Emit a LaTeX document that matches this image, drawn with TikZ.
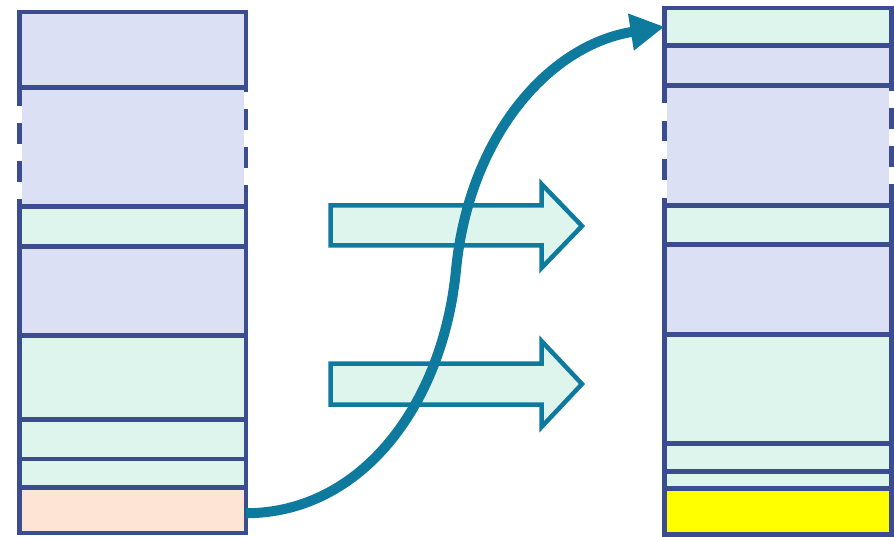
\documentclass[tikz,border=0pt]{standalone}
\usetikzlibrary{arrows.meta}
\definecolor{bdr}{RGB}{59,76,145}
\definecolor{lav}{RGB}{220,224,244}
\definecolor{mint}{RGB}{222,245,238}
\definecolor{peach}{RGB}{253,228,212}
\definecolor{teal}{RGB}{14,122,157}
\definecolor{yel}{RGB}{255,255,0}
\tikzset{
  cell/.style={draw=bdr, line width=4.5pt, inner sep=0pt, outer sep=0pt},
  lcol/.style={cell, minimum width=226.5pt},
  rcol/.style={cell, minimum width=227pt},
  openside/.style={draw=none, fill=lav, inner sep=0pt, outer sep=0pt},
  dashside/.style={draw=bdr, line width=4.5pt, dash pattern=on 21pt off 17pt},
  blockarrow/.style={draw=teal, fill=mint, line width=4.5pt, line join=miter},
  curve/.style={draw=teal, line width=10pt, -{Triangle[length=34pt,width=35pt]}}
}
\begin{document}
\begin{tikzpicture}[x=1pt,y=-1pt]
\useasboundingbox (0,0) rectangle (894,537);
% open (dashed-side) sections first, so neighbouring borders lie on top
\node[openside, minimum width=222pt, minimum height=119pt] (L2) at (132.75,147) {};
\node[openside, minimum width=222.5pt, minimum height=120pt] (R3) at (778,145.5) {};
% left column
\node[lcol, fill=lav,   minimum height=75.5pt] (L1) at (132.75,49.75) {};
\node[lcol, fill=mint,  minimum height=40pt]   (L3) at (132.75,226.5) {};
\node[lcol, fill=lav,   minimum height=89pt]   (L4) at (132.75,291) {};
\node[lcol, fill=mint,  minimum height=84pt]   (L5) at (132.75,377.5) {};
\node[lcol, fill=mint,  minimum height=39.5pt] (L6) at (132.75,439.25) {};
\node[lcol, fill=mint,  minimum height=28.5pt] (L7) at (132.75,473.25) {};
\node[lcol, fill=peach, minimum height=45.5pt] (L8) at (132.75,510.25) {};
\coordinate (L2nw) at (19.5,87.5);
\coordinate (L2sw) at (19.5,206.5);
\coordinate (L2ne) at (246,87.5);
\coordinate (L2se) at (246,206.5);
\draw[dashside, dash phase=2.5pt] (L2nw) -- (L2sw);
\draw[dashside] (L2se) -- (L2ne);
% right column
\node[rcol, fill=mint,  minimum height=37.5pt] (R1) at (778,26.75) {};
\node[rcol, fill=lav,   minimum height=40pt]   (R2) at (778,65.5) {};
\node[rcol, fill=mint,  minimum height=39pt]   (R4) at (778,225) {};
\node[rcol, fill=lav,   minimum height=90pt]   (R5) at (778,289.5) {};
\node[rcol, fill=mint,  minimum height=109pt]  (R6) at (778,389) {};
\node[rcol, fill=mint,  minimum height=28pt]   (R7) at (778,457.5) {};
\node[rcol, fill=mint,  minimum height=17pt]   (R8) at (778,480) {};
\node[rcol, fill=yel,   minimum height=46pt]   (R9) at (778,511.5) {};
\coordinate (R3nw) at (664.5,85.5);
\coordinate (R3sw) at (664.5,205.5);
\coordinate (R3ne) at (891.5,85.5);
\coordinate (R3se) at (891.5,205.5);
\draw[dashside, dash pattern=on 20.5pt off 18pt, dash phase=3pt] (R3nw) -- (R3sw);
\draw[dashside] (R3se) -- (R3ne);
% block arrows
\draw[blockarrow] (330.5,205.5) -- (541.5,205.5) -- (541.5,184) -- (582,226)
  -- (541.5,268) -- (541.5,245.5) -- (330.5,245.5) -- cycle;
\draw[blockarrow] (330.5,363.5) -- (541.5,363.5) -- (541.5,341) -- (582,384)
  -- (541.5,427) -- (541.5,404.5) -- (330.5,404.5) -- cycle;
% curved connector
\coordinate (mid) at (456,270);
\draw[curve] ([yshift=-3pt]L8.east) .. controls (362,513) and (443,404) .. (mid)
  .. controls (469,136) and (549,45) .. (R1.west);
\end{tikzpicture}
\end{document}
